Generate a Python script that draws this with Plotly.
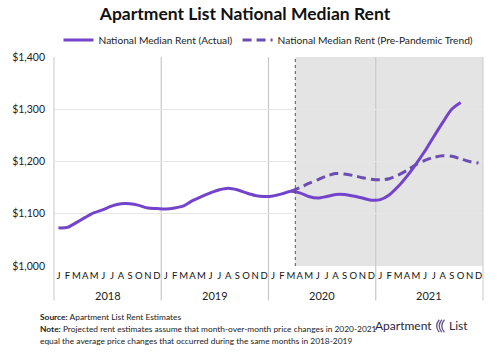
import plotly.graph_objects as go

# ---------------- data ----------------
years = ["2018", "2019", "2020", "2021"]
month_letters = ["J", "F", "M", "A", "M", "J", "J", "A", "S", "O", "N", "D"]

# monthly index 0 = Jan 2018
actual_rent = [
    1073, 1074, 1083, 1093, 1102, 1108, 1115, 1119, 1119, 1116, 1111, 1110,   # 2018
    1109, 1111, 1115, 1125, 1133, 1140, 1146, 1149, 1146, 1140, 1135, 1133,   # 2019
    1134, 1138, 1143, 1140, 1133, 1130, 1133, 1137, 1137, 1134, 1130, 1126,   # 2020
    1127, 1136, 1152, 1172, 1195, 1220, 1248, 1275, 1300, 1313,               # 2021 (to Oct)
]
trend_start = 26  # Mar 2020
trend_rent = [
    1143, 1150, 1158, 1165, 1172, 1177, 1176, 1173, 1169, 1166,               # Mar-Dec 2020
    1165, 1167, 1174, 1183, 1194, 1202, 1208, 1211, 1210, 1205, 1200, 1197,   # 2021
]
y_ticks = [1000, 1100, 1200, 1300, 1400]

# ---------------- figure ----------------
FONT = "Lato"
purple = "#7443cc"
purple_dash = "#6b4db3"

x_actual = list(range(len(actual_rent)))
x_trend = list(range(trend_start, trend_start + len(trend_rent)))
n_months = 12 * len(years)

fig = go.Figure()
fig.add_trace(go.Scatter(
    x=x_actual, y=actual_rent, mode="lines",
    line=dict(color=purple, width=3, shape="spline", smoothing=0.8),
    name="National Median Rent (Actual)"))
fig.add_trace(go.Scatter(
    x=x_trend, y=trend_rent, mode="lines",
    line=dict(color=purple_dash, width=3, dash="9px,5px", shape="spline", smoothing=0.8),
    name="National Median Rent (Pre-Pandemic Trend)"))

shapes = []
# shaded projection region
shapes.append(dict(type="rect", xref="x", yref="paper", x0=trend_start + 0.5, x1=n_months - 0.5,
                   y0=0, y1=1, fillcolor="#e4e4e4", line=dict(width=0), layer="below"))
# dotted divider
shapes.append(dict(type="line", xref="x", yref="paper", x0=trend_start + 0.5, x1=trend_start + 0.5,
                   y0=0, y1=1, line=dict(color="#555555", width=1, dash="dot"), layer="above"))
# year dividers (extend below axis through labels)
for i in range(1, len(years)):
    xv = 12 * i - 0.5
    shapes.append(dict(type="line", xref="x", yref="paper", x0=xv, x1=xv, y0=-0.165, y1=1,
                       line=dict(color="#c8c8c8", width=1.2), layer="below"))
for xv in (0, 1):
    shapes.append(dict(type="line", xref="x domain", yref="paper", x0=xv, x1=xv, y0=-0.165, y1=1,
                       line=dict(color="#d0d0d0", width=1.2), layer="below"))

annotations = []
for i, yr in enumerate(years):
    annotations.append(dict(x=12 * i + 5.5, xref="x", y=-0.139, yref="paper", text=yr,
                            showarrow=False, font=dict(family=FONT, size=11, color="#222222"),
                            xanchor="center", yanchor="middle"))
note_font = dict(family=FONT, size=8.4, color="#222222")
annotations += [
    dict(x=-0.038, y=-0.244, xref="paper", yref="paper", xanchor="left", yanchor="middle",
         text="<b>Source:</b> Apartment List Rent Estimates", showarrow=False, font=note_font),
    dict(x=-0.038, y=-0.301, xref="paper", yref="paper", xanchor="left", yanchor="middle",
         text="<b>Note:</b> Projected rent estimates assume that month-over-month price changes in 2020-2021",
         showarrow=False, font=note_font),
    dict(x=-0.038, y=-0.359, xref="paper", yref="paper", xanchor="left", yanchor="middle",
         text="equal the average price changes that occurred during the same months in 2018-2019",
         showarrow=False, font=note_font),
    dict(x=0.886, y=-0.287, xref="paper", yref="paper", xanchor="right", yanchor="middle",
         text="Apartment", showarrow=False, font=dict(family=FONT, size=12, color="#2b2540")),
    dict(x=0.915, y=-0.287, xref="paper", yref="paper", xanchor="left", yanchor="middle",
         text="List", showarrow=False, font=dict(family=FONT, size=12, color="#2b2540")),
]
# logo icon (simple arcs)
for off in [0.0, 0.006, 0.012]:
    shapes.append(dict(type="path", xref="paper", yref="paper",
                       path=f"M {0.898+off} -0.257 Q {0.886+off} -0.287 {0.898+off} -0.317",
                       line=dict(color="#6b5a8c", width=1.3)))

fig.update_layout(
    width=500, height=353,
    margin=dict(l=46, r=17, t=57, b=87),
    paper_bgcolor="white", plot_bgcolor="white",
    title=dict(text="<b>Apartment List National Median Rent</b>", x=0.49, xref="container",
               xanchor="center", y=0.962, yref="container", yanchor="middle",
               font=dict(family=FONT, size=17.5, color="#111111")),
    showlegend=True,
    legend=dict(orientation="h", x=0.5, xanchor="center", y=1.081, yanchor="middle",
                font=dict(family=FONT, size=10.2, color="#222222"), itemwidth=30,
                bgcolor="rgba(0,0,0,0)", tracegroupgap=0),
    xaxis=dict(range=[-0.5, n_months - 0.5], tickmode="array",
               tickvals=list(range(n_months)), ticktext=month_letters * len(years),
               showgrid=False, zeroline=False, showline=False, ticks="", tickangle=0,
               tickfont=dict(family=FONT, size=9.5, color="#111111"), ticklabelstandoff=2),
    yaxis=dict(range=[1000, 1400], tickmode="array", tickvals=y_ticks,
               ticktext=[f"${v:,}" for v in y_ticks],
               showgrid=True, gridcolor="#e6e6e6", gridwidth=1, zeroline=False, showline=False,
               ticks="", tickfont=dict(family=FONT, size=10.5, color="#222222"), ticklabelstandoff=8),
    shapes=shapes, annotations=annotations,
)

fig.write_html("out.html")
